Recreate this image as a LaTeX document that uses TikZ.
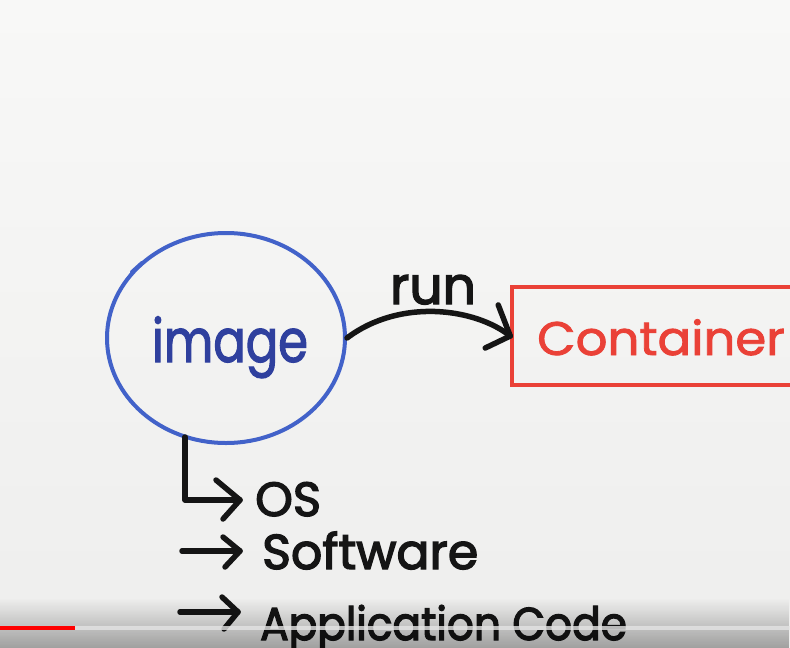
\documentclass[tikz,border=0pt]{standalone}
\usepackage{fontspec}
\setmainfont{Poppins}
\newfontfamily\hand[FakeBold=2.8]{Poppins}
\newfontfamily\handslim[FakeStretch=0.92,FakeBold=2.8]{Poppins}
\newfontfamily\handnarrow[FakeStretch=0.8,FakeBold=1.8]{Poppins}
\newfontfamily\handwide[FakeStretch=1.06,FakeBold=1.8]{Poppins}
\usetikzlibrary{shapes.geometric,fadings}

\definecolor{board}{HTML}{F8F8F7}
\definecolor{boardlow}{HTML}{EEEEED}
\definecolor{inkblue}{HTML}{4262C9}
\definecolor{inkdeep}{HTML}{2F409E}
\definecolor{inkred}{HTML}{EA4137}
\definecolor{inkblack}{HTML}{151515}
\definecolor{barred}{HTML}{FF0000}
\definecolor{bargrey}{HTML}{E4E4E4}

\tikzset{
  marker/.style={line width=5.5pt, line cap=round, line join=round, draw=inkblack},
  blacktext/.style={text=inkblack, inner sep=0pt},
}

\begin{document}
\begin{tikzpicture}[x=1pt,y=-1pt]
  \useasboundingbox (0,0) rectangle (790,648);
  \clip (0,0) rectangle (790,648);

  % whiteboard
  \shade[top color=board, bottom color=boardlow] (0,0) rectangle (790,648);

  % image bubble
  \node[ellipse, draw=inkblue, line width=4pt, minimum width=238pt,
        minimum height=210pt, inner sep=0pt] (img) at (226,338) {};
  \draw[inkblue, line width=4pt, line cap=round] (132,272) -- (142,263);
  \node[anchor=base, text=inkdeep, inner sep=0pt,
        font=\handnarrow\fontsize{60}{62}\selectfont] (imgtxt) at (230,362) {image};

  % container box
  \node[rectangle, draw=inkred, line width=3.5pt, minimum width=296pt,
        minimum height=98pt, inner sep=0pt] (cont) at (660,336) {};
  \node[anchor=base, text=inkred, inner sep=0pt,
        font=\handwide\fontsize{47}{49}\selectfont] (conttxt) at (661,355) {Container};

  % run arrow
  \node[anchor=base, blacktext, font=\hand\fontsize{52}{54}\selectfont]
        (run) at (433,304) {run};
  \draw[marker] (img.east) .. controls (400,298) and (475,308) .. (cont.west);
  \draw[marker] (cont.west) ++(-12,-31) -- (cont.west) -- ++(-25,12);

  % contents of the image
  \node[anchor=base west, blacktext, font=\hand\fontsize{48}{50}\selectfont]
        (os) at (255,516) {OS};
  \node[anchor=base west, blacktext, font=\hand\fontsize{49}{51}\selectfont]
        (sw) at (262,569) {Software};
  \node[anchor=base west, blacktext, font=\handslim\fontsize{46}{48}\selectfont]
        (app) at (260,640) {Application Code};

  \coordinate (drop) at (185,437);
  \coordinate (ostip) at (240,500);
  \coordinate (swtail) at (182,551);
  \coordinate (swtip) at (240,551);
  \coordinate (apptail) at (180,612);
  \coordinate (apptip) at (238,612);

  \draw[marker] (drop) |- (ostip);
  \draw[marker] (ostip) ++(-24,-20) -- (ostip) -- ++(-17,19);
  \draw[marker] (swtail) -- (swtip);
  \draw[marker] (swtip) ++(-17,-14) -- (swtip) -- ++(-15,16);
  \draw[marker] (apptail) -- (apptip);
  \draw[marker] (apptip) ++(-16,-15) -- (apptip) -- ++(-14,17);

  % player overlay along the lower edge
  \fill[black, opacity=0.33, path fading=north] (0,598) rectangle (790,648);
  \fill[bargrey, opacity=0.8] (0,626) rectangle (790,630);
  \fill[barred] (0,626) rectangle (75,630);
\end{tikzpicture}
\end{document}
